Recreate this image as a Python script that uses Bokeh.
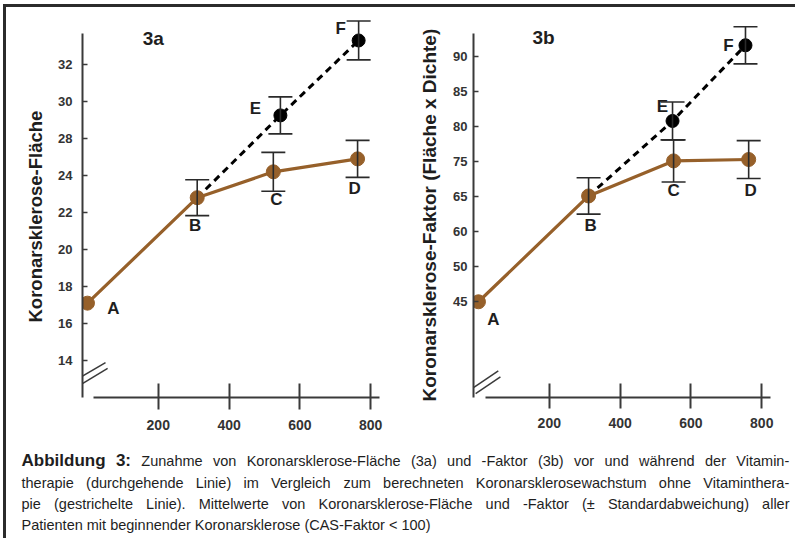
from bokeh.plotting import figure
from bokeh.models import (Range1d, FixedTicker, Whisker, ColumnDataSource, LabelSet,
                          Label, TeeHead, LinearAxis, Title, InlineStyleSheet)
from bokeh.layouts import column, row
from bokeh.embed import file_html
from bokeh.resources import INLINE
from bokeh.core.properties import value

# ---------------- data: chart 3a (Koronarsklerose-Fläche) ----------------
a_names = ["A", "B", "C", "D"]
a_x = [0, 310, 525, 763]
a_y = [17.1, 22.8, 24.2, 24.9]
a_err = [0.0, 0.97, 1.05, 1.0]
a_proj_names = ["E", "F"]
a_proj_x = [545, 766]
a_proj_y = [27.25, 31.3]
a_proj_err = [1.0, 1.05]
a_tick_pos = [14, 16, 18, 20, 22, 24, 26, 28, 30]
a_tick_labels = ["14", "16", "18", "20", "22", "24", "28", "30", "32"]

# ---------------- data: chart 3b (Koronarsklerose-Faktor) ----------------
b_names = ["A", "B", "C", "D"]
b_x = [0, 311, 551, 763]
b_y = [45.0, 60.1, 65.1, 65.3]
b_err = [0.0, 2.6, 3.0, 2.7]
b_proj_names = ["E", "F"]
b_proj_x = [548, 754]
b_proj_y = [70.8, 81.6]
b_proj_err = [2.7, 2.65]
b_tick_pos = [45, 50, 55, 60, 65, 70, 75, 80]
b_tick_labels = ["45", "50", "60", "65", "75", "80", "85", "90"]

x_ticks = [200, 400, 600, 800]

# ---------------- styling / layout constants ----------------
BROWN = "#96602a"
AX = "#3a3a3a"
TXT = "#1e1e1e"
FONT = "Liberation Sans"

a_label_dx = [26, -2, 3, -3]
a_label_dy = [5, 28, 28, 30]
a_proj_label_dx = [-25, -18]
a_proj_label_dy = [-7, -12]
b_label_dx = [15, 2, 0, 2]
b_label_dy = [18, 30, 30, 31]
b_proj_label_dx = [-10, -17]
b_proj_label_dy = [-14, 0]


def make_chart(width, x_range, y_range, ybounds, borders, names, xs, ys, errs,
               pnames, pxs, pys, perrs, tick_pos, tick_labels, ylabel,
               ylabel_size, ylabel_offset, ylabel_standoff, lab_dx, lab_dy, plab_dx, plab_dy,
               panel_text, panel_pos, break_x, break_y, xaxis_bounds, tick_in, tick_out,
               xstand, ystand):
    left, right, top, bottom = borders
    p = figure(width=width, height=440, output_backend="svg", toolbar_location=None,
               x_range=Range1d(*x_range), y_range=Range1d(*y_range),
               min_border_left=left, min_border_right=right,
               min_border_top=top, min_border_bottom=bottom,
               x_axis_type=None, y_axis_type=None)
    p.outline_line_color = None
    p.background_fill_color = "white"
    p.border_fill_color = "white"
    p.xgrid.visible = False
    p.ygrid.visible = False

    xa = LinearAxis(ticker=FixedTicker(ticks=x_ticks), bounds=xaxis_bounds)
    xa.axis_line_color = AX
    xa.axis_line_width = 2
    xa.major_tick_line_color = AX
    xa.major_tick_line_width = 2
    xa.major_tick_in = tick_in
    xa.major_tick_out = tick_out
    xa.minor_tick_line_color = None
    xa.major_label_standoff = xstand
    xa.major_label_text_font = FONT
    xa.major_label_text_font_style = "bold"
    xa.major_label_text_font_size = "14px"
    xa.major_label_text_color = "#333333"
    p.add_layout(xa, "below")

    ya = LinearAxis(ticker=FixedTicker(ticks=tick_pos), bounds=ybounds)
    ya.major_label_overrides = {t: l for t, l in zip(tick_pos, tick_labels)}
    ya.axis_line_color = AX
    ya.axis_line_width = 2
    ya.major_tick_line_color = AX
    ya.major_tick_line_width = 1.5
    ya.major_tick_in = 5
    ya.major_tick_out = 0
    ya.minor_tick_line_color = None
    ya.major_label_standoff = ystand
    ya.major_label_text_font = FONT
    ya.major_label_text_font_style = "bold"
    ya.major_label_text_font_size = "13px"
    ya.major_label_text_color = "#333333"
    p.add_layout(ya, "left")

    p.add_layout(Title(text=ylabel, align="left", offset=ylabel_offset,
                       standoff=ylabel_standoff,
                       text_font=FONT, text_font_style="bold",
                       text_font_size=ylabel_size, text_color=TXT), "left")

    # axis break marks
    p.segment(x0=[break_x[0], break_x[0] + 6], y0=[break_y[0], break_y[2]],
              x1=[break_x[1], break_x[1] + 6], y1=[break_y[1], break_y[3]],
              line_color=AX, line_width=1.5)

    # projected (dashed) growth: from B through E, F
    dx = [xs[1]] + pxs
    dy = [ys[1]] + pys
    p.line(dx, dy, line_color="black", line_width=3, line_dash="7 5")

    # measured (solid) line
    p.line(xs, ys, line_color=BROWN, line_width=3.2)

    # error bars
    ex = [x for x, e in zip(xs, errs) if e > 0] + pxs
    ey = [y for y, e in zip(ys, errs) if e > 0] + pys
    ee = [e for e in errs if e > 0] + perrs
    esrc = ColumnDataSource(dict(x=ex, upper=[y + e for y, e in zip(ey, ee)],
                                 lower=[y - e for y, e in zip(ey, ee)]))
    w = Whisker(base="x", upper="upper", lower="lower", source=esrc,
                line_color="#2a2a2a", line_width=1.6, level="overlay",
                upper_head=TeeHead(size=24, line_color="#2a2a2a", line_width=1.6),
                lower_head=TeeHead(size=24, line_color="#2a2a2a", line_width=1.6))
    p.add_layout(w)

    p.scatter(xs, ys, size=14, fill_color=BROWN, line_color=BROWN)
    p.scatter(pxs, pys, size=13, fill_color="black", line_color="black")

    lsrc = ColumnDataSource(dict(x=xs + pxs, y=ys + pys, t=names + pnames,
                                 dx=lab_dx + plab_dx, dy=[-d for d in lab_dy + plab_dy]))
    ls = LabelSet(x="x", y="y", text="t", x_offset="dx", y_offset="dy", source=lsrc,
                  text_font=value(FONT), text_font_style="bold", text_font_size="17px",
                  text_color=TXT, text_align="center", text_baseline="middle")
    p.add_layout(ls)

    p.add_layout(Label(x=panel_pos[0], y=panel_pos[1], text=panel_text,
                       text_font=FONT, text_font_style="bold", text_font_size="19px",
                       text_color=TXT, text_align="center", text_baseline="middle"))
    return p


p1 = make_chart(405, (-14, 856), (12.0, 32.65), (12.0, 31.68), (82, 15, 15, 43),
                a_names, a_x, a_y, a_err, a_proj_names, a_proj_x, a_proj_y, a_proj_err,
                a_tick_pos, a_tick_labels, "Koronarsklerose-Fläche", "18.5px", 75, 20,
                a_label_dx, a_label_dy, a_proj_label_dx, a_proj_label_dy,
                "3a", (186, 31.4), (-25, 51), (13.03, 13.89, 12.70, 13.57), (17, 825),
                14, 12, 10, 10)

p2 = make_chart(390, (-14, 867), (31.34, 85.85), (31.34, 83.31), (68, 10, 15, 38),
                b_names, b_x, b_y, b_err, b_proj_names, b_proj_x, b_proj_y, b_proj_err,
                b_tick_pos, b_tick_labels, "Koronarsklerose-Faktor (Fläche x Dichte)", "19px",
                -4, 22,
                b_label_dx, b_label_dy, b_proj_label_dx, b_proj_label_dy,
                "3b", (184, 82.7), (-14, 56), (32.75, 35.14, 31.9, 34.3), (20, 825),
                14, 11, 9, 6)

# ---------------- caption (justified like the original) ----------------
cap_bold = ["Abbildung", "3:"]
cap_lines = [
    "Zunahme von Koronarsklerose-Fläche (3a) und -Faktor (3b) vor und während der Vitamin-",
    "therapie (durchgehende Linie) im Vergleich zum berechneten Koronarsklerosewachstum ohne Vitaminthera-",
    "pie (gestrichelte Linie). Mittelwerte von Koronarsklerose-Fläche und -Faktor (± Standardabweichung) aller",
    "Patienten mit beginnender Koronarsklerose (CAS-Faktor < 100)",
]

# Arial / Liberation Sans advance widths (1/1000 em) used for justification
W_REG = {" ": 278, "(": 333, ")": 333, "-": 333, ".": 278, ",": 278, ":": 278, "<": 584,
         "±": 549, "ä": 556, "ö": 556, "ü": 556,
         "A": 667, "B": 667, "C": 722, "D": 722, "E": 667, "F": 611, "G": 778, "H": 722,
         "I": 278, "J": 500, "K": 667, "L": 556, "M": 833, "N": 722, "O": 778, "P": 667,
         "Q": 778, "R": 722, "S": 667, "T": 611, "U": 722, "V": 667, "W": 944, "X": 667,
         "Y": 667, "Z": 611, "a": 556, "b": 556, "c": 500, "d": 556, "e": 556, "f": 278,
         "g": 556, "h": 556, "i": 222, "j": 222, "k": 500, "l": 222, "m": 833, "n": 556,
         "o": 556, "p": 556, "q": 556, "r": 333, "s": 500, "t": 278, "u": 556, "v": 500,
         "w": 722, "x": 500, "y": 500, "z": 500}
for d in "0123456789":
    W_REG[d] = 556
W_BOLD = {"A": 722, "b": 611, "i": 278, "l": 278, "d": 611, "u": 611, "n": 611,
          "g": 611, "3": 556, ":": 333, " ": 278}

CAP_SIZE = 14.5
BOLD_SIZE = 17.0
CAP_LEFT, CAP_RIGHT = 21, 789
line_base = [20, 42, 63, 84]


def wlen(word, table, size):
    return sum(table.get(c, 556) for c in word) * size / 1000.0


reg_x, reg_y, reg_t, bold_x, bold_y, bold_t = [], [], [], [], [], []
for i, line in enumerate(cap_lines):
    words = [(w, True) for w in cap_bold] if i == 0 else []
    words += [(w, False) for w in line.split(" ")]
    widths = [wlen(w, W_BOLD, BOLD_SIZE) if b else wlen(w, W_REG, CAP_SIZE) for w, b in words]
    if i < 3:
        gap = (CAP_RIGHT - CAP_LEFT - sum(widths)) / (len(words) - 1)
    else:
        gap = 0.278 * CAP_SIZE
    xpos = CAP_LEFT
    for (w, b), wd in zip(words, widths):
        if b:
            bold_x.append(xpos); bold_y.append(line_base[i]); bold_t.append(w)
        else:
            reg_x.append(xpos); reg_y.append(line_base[i]); reg_t.append(w)
        xpos += wd + gap

cap = figure(width=795, height=98, output_backend="svg", toolbar_location=None,
             x_range=Range1d(0, 795), y_range=Range1d(98, 0),
             min_border=0, x_axis_type=None, y_axis_type=None)
cap.outline_line_color = None
cap.xgrid.visible = False
cap.ygrid.visible = False
cap.text(x=reg_x, y=reg_y, text=reg_t, text_font=value(FONT), text_font_size="14.5px",
         text_color=TXT, text_baseline="alphabetic", text_align="left")
cap.text(x=bold_x, y=bold_y, text=bold_t, text_font=value(FONT), text_font_style="bold",
         text_font_size="17px", text_color=TXT, text_baseline="alphabetic", text_align="left")

frame_css = InlineStyleSheet(css=(
    ":host::after { content: ''; position: absolute; left: 3px; top: 4px; right: 0px; "
    "bottom: 0px; border-left: 3px solid #2b2b2b; border-top: 3px solid #2b2b2b; "
    "pointer-events: none; z-index: 10; }"))

layout = column(row(p1, p2), cap, stylesheets=[frame_css])
open("out.html", "w").write(file_html(layout, INLINE))
